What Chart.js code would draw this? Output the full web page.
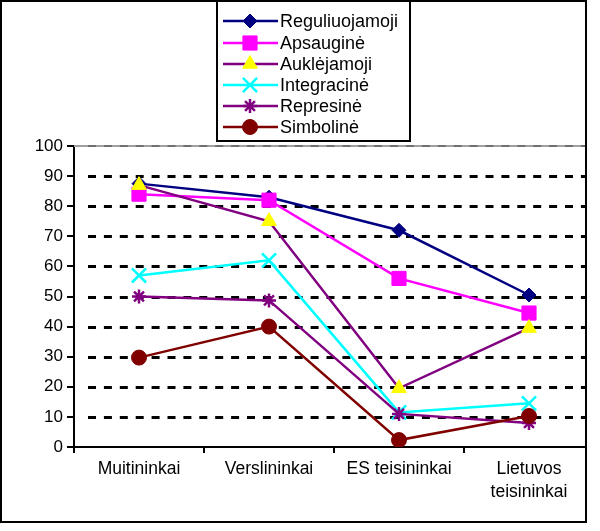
<!DOCTYPE html>
<html>
<head>
<meta charset="utf-8">
<script src="https://cdn.jsdelivr.net/npm/chart.js@4"></script>
<style>
  html, body { margin: 0; padding: 0; background: #fff; }
  #wrap { width: 600px; height: 531px; }
</style>
</head>
<body>
<div id="wrap"><canvas id="chart" width="600" height="531"></canvas></div>
<script>
// === DATA ===
const categories = ["Muitininkai", "Verslininkai", "ES teisininkai", ["Lietuvos", "teisininkai"]];
const seriesNames = ["Reguliuojamoji", "Apsauginė", "Auklėjamoji", "Integracinė", "Represinė", "Simbolinė"];
const reguliuojamoji = [87.5, 83, 72, 50.5];
const apsaugine = [84, 82, 56, 44.5];
const auklejamoji = [87, 75, 19.5, 39.5];
const integracine = [57, 62, 11.5, 14.5];
const represine = [50, 48.7, 11, 8];
const simboline = [29.7, 40, 2.3, 10.3];
const yTicks = [0, 10, 20, 30, 40, 50, 60, 70, 80, 90, 100];

const FONT = "Arial, 'Liberation Sans', sans-serif";

// === STYLES per series ===
const styles = [
    { line: "#000080", fill: "#000080", point: "rectRot", radius: 7 },
    { line: "#FF00FF", fill: "#FF00FF", point: "rect", radius: 10 },
    { line: "#800080", fill: "#FFFF00", point: "triangle", radius: 8.5 },
    { line: "#00FFFF", fill: "#00FFFF", point: "crossRot", radius: 10 },
    { line: "#800080", fill: "#800080", point: "star", radius: 7 },
    { line: "#800000", fill: "#800000", point: "circle", radius: 7.5 },
];
const seriesData = [reguliuojamoji, apsaugine, auklejamoji, integracine, represine, simboline];

const datasets = seriesNames.map((name, i) => ({
    label: name,
    data: seriesData[i],
    borderColor: styles[i].line,
    borderWidth: 2.5,
    pointStyle: styles[i].point,
    pointRadius: styles[i].radius,
    pointBackgroundColor: styles[i].fill,
    pointBorderColor: styles[i].fill,
    pointBorderWidth: styles[i].point === "crossRot" || styles[i].point === "star" ? 2.5 : 1,
    tension: 0,
    order: seriesNames.length - i, // later series on top, like the original
}));

// dashed gridlines, frame and legend box
const decorPlugin = {
    id: "decor",
    beforeDatasetsDraw(chart) {
        const { ctx, chartArea, scales } = chart;
        ctx.save();
        ctx.strokeStyle = "#000";
        ctx.lineWidth = 3;
        ctx.setLineDash([8, 7.9]);
        yTicks.forEach((v) => {
            if (v === 0 || v === 100) return;
            const y = Math.round(scales.y.getPixelForValue(v)) + 0.5;
            ctx.beginPath();
            ctx.moveTo(chartArea.left + 14, y);
            ctx.lineTo(chartArea.right, y);
            ctx.stroke();
        });
        // top border of the plot area: grey with darker dashes
        const yTop = scales.y.getPixelForValue(100);
        ctx.setLineDash([]);
        ctx.strokeStyle = "#a0a0a0";
        ctx.lineWidth = 2;
        ctx.beginPath();
        ctx.moveTo(chartArea.left, yTop);
        ctx.lineTo(chartArea.right, yTop);
        ctx.stroke();
        ctx.setLineDash([8, 7.9]);
        ctx.strokeStyle = "#707070";
        ctx.beginPath();
        ctx.moveTo(chartArea.left + 14, yTop);
        ctx.lineTo(chartArea.right, yTop);
        ctx.stroke();
        ctx.restore();
    },
    afterDraw(chart) {
        const { ctx } = chart;
        ctx.save();
        // mask right part outside frame
        ctx.fillStyle = "#fff";
        ctx.fillRect(587, 0, 13, 531);
        ctx.fillRect(0, 523, 600, 8);
        // outer frame
        ctx.strokeStyle = "#000";
        ctx.lineWidth = 2;
        ctx.strokeRect(1, 1, 585, 521);

        // legend box
        ctx.fillStyle = "#fff";
        ctx.fillRect(216, 0, 194, 141);
        ctx.strokeRect(217, 1, 193, 140);
        const rows = [21, 43, 64, 85, 106, 127];
        ctx.font = "18px " + FONT;
        ctx.textBaseline = "middle";
        ctx.textAlign = "left";
        chart.data.datasets.forEach((ds, i) => {
            const y = rows[i];
            ctx.strokeStyle = ds.borderColor;
            ctx.lineWidth = 2.5;
            ctx.beginPath();
            ctx.moveTo(223, y);
            ctx.lineTo(278, y);
            ctx.stroke();
            ctx.fillStyle = ds.pointBackgroundColor;
            ctx.strokeStyle = ds.pointBorderColor;
            ctx.lineWidth = ds.pointBorderWidth;
            Chart.helpers.drawPoint(ctx, { pointStyle: ds.pointStyle, radius: ds.pointRadius, rotation: 0, borderWidth: ds.pointBorderWidth }, 250, y);
            ctx.fillStyle = "#000";
            ctx.fillText(ds.label, 280, y + 1);
        });
        ctx.restore();
    },
};

new Chart(document.getElementById("chart"), {
    type: "line",
    data: { labels: categories, datasets: datasets },
    plugins: [decorPlugin],
    options: {
        responsive: false,
        animation: false,
        layout: { autoPadding: false, padding: { top: 146, right: 6, left: 0, bottom: 0 } },
        plugins: { legend: { display: false }, tooltip: { enabled: false } },
        scales: {
            x: {
                offset: true,
                grid: { offset: true, drawOnChartArea: false, tickLength: 6, color: "#000", lineWidth: 2 },
                border: { color: "#000", width: 2 },
                ticks: { color: "#000", font: { family: FONT, size: 17.5, lineHeight: 1.3 }, padding: 5, maxRotation: 0, autoSkip: false },
                afterFit(scale) {
                    scale.height = 84;
                    scale.paddingLeft = 0;
                    scale.paddingRight = 0;
                },
            },
            y: {
                min: 0,
                max: 100,
                afterBuildTicks(scale) { scale.ticks = yTicks.map((v) => ({ value: v })); },
                grid: { drawOnChartArea: false, tickLength: 7, color: "#000", lineWidth: 2 },
                border: { color: "#000", width: 2 },
                ticks: { color: "#000", font: { family: FONT, size: 17 }, padding: 4 },
                afterFit(scale) {
                    scale.width = 74;
                    scale.paddingTop = 0;
                    scale.paddingBottom = 0;
                },
            },
        },
    },
});
</script>
</body>
</html>
